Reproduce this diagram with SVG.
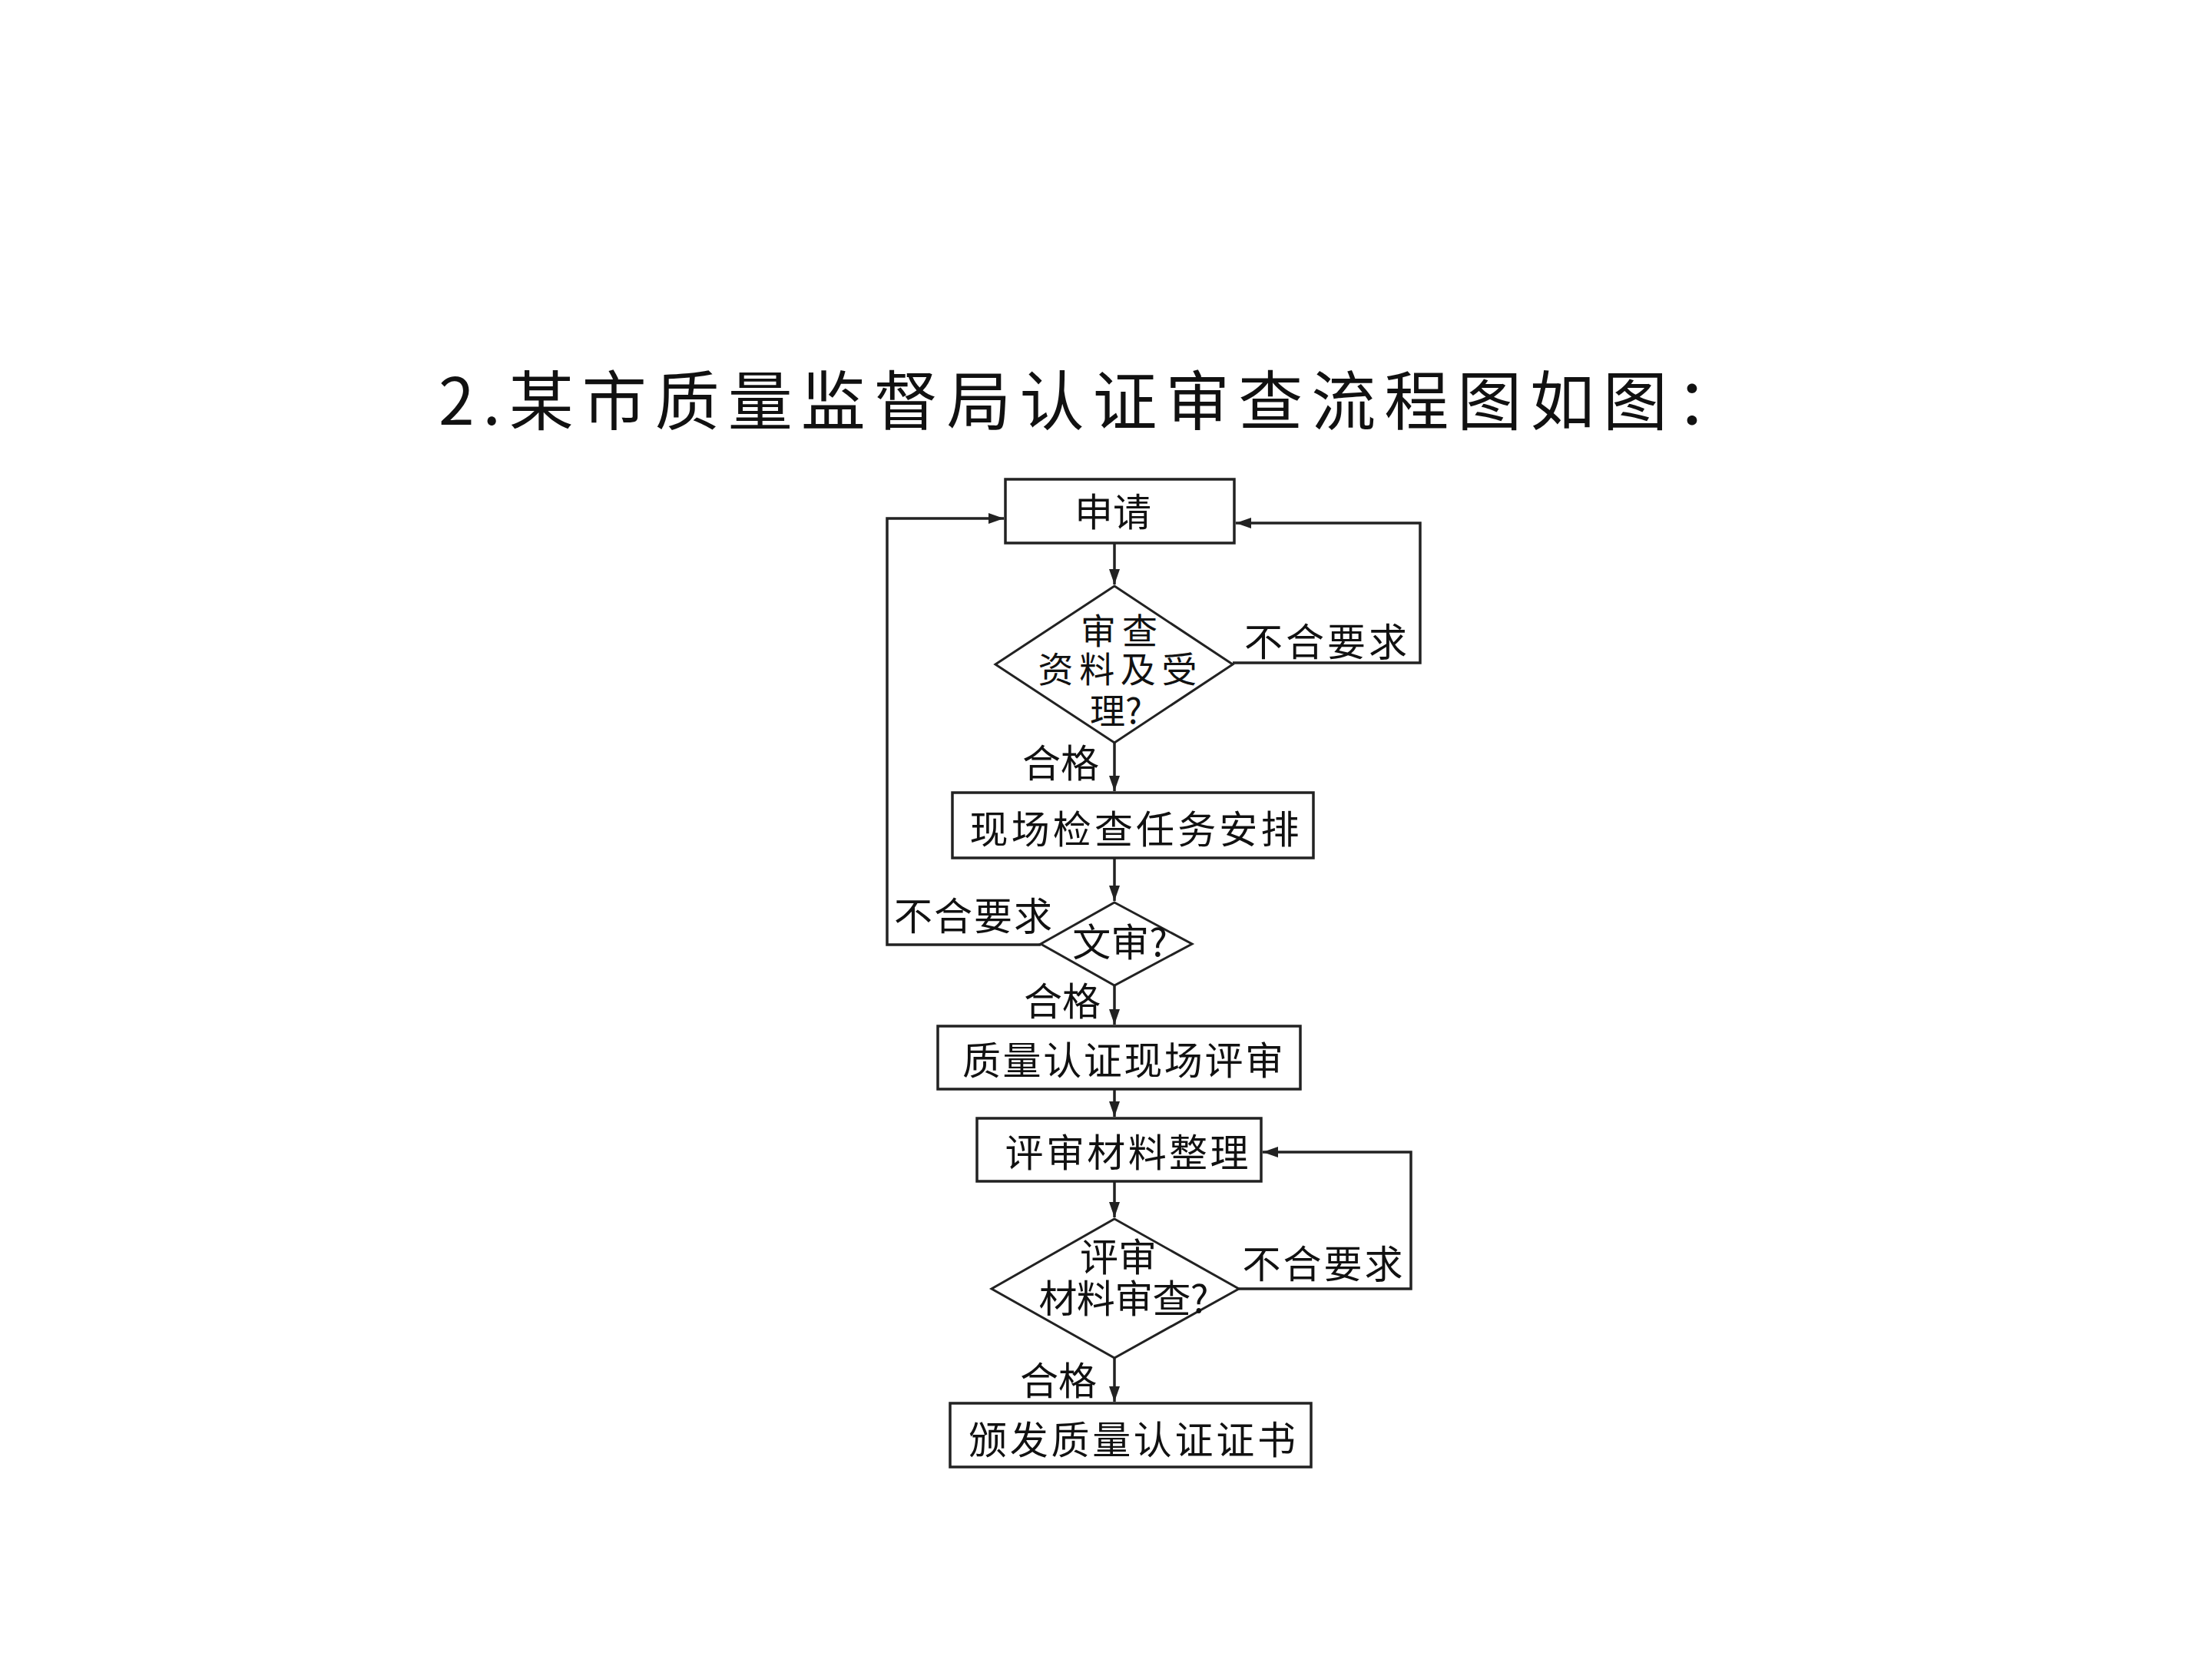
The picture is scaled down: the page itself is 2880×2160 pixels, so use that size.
<svg xmlns="http://www.w3.org/2000/svg" width="2880" height="2160" viewBox="0 0 2880 2160">
<style>
.box{fill:#fff;stroke:#222;stroke-width:3.5}
.dia{fill:#fff;stroke:#222;stroke-width:3}
.ln{fill:none;stroke:#222;stroke-width:3.5}
.t{font-family:"Noto Sans CJK SC","Liberation Sans",sans-serif;font-size:50px;fill:#111;text-anchor:middle}
.d{font-size:46px}
.title{font-family:"Noto Sans CJK SC","Liberation Sans",sans-serif;font-size:84px;fill:#111}
</style>
<defs>
<marker id="arr" markerUnits="userSpaceOnUse" markerWidth="22" markerHeight="14" refX="20" refY="7" orient="auto">
<path d="M0,0 L20,7 L0,14 Z" fill="#222"/>
</marker>
</defs>
<rect width="2880" height="2160" fill="#fff"/>
<text class="title" x="571" y="553" textLength="1695" lengthAdjust="spacing">2.某市质量监督局认证审查流程图如图：</text>
<g id="connectors">
<path class="ln" d="M1451,707 L1451,761" marker-end="url(#arr)"/>
<path class="ln" d="M1451,967 L1451,1030" marker-end="url(#arr)"/>
<path class="ln" d="M1605,863 L1849,863 L1849,681 L1609,681" marker-end="url(#arr)"/>
<path class="ln" d="M1451,1117 L1451,1173" marker-end="url(#arr)"/>
<path class="ln" d="M1355,1230 L1155,1230 L1155,675 L1307,675" marker-end="url(#arr)"/>
<path class="ln" d="M1451,1283 L1451,1334" marker-end="url(#arr)"/>
<path class="ln" d="M1451,1418 L1451,1454" marker-end="url(#arr)"/>
<path class="ln" d="M1451,1538 L1451,1585" marker-end="url(#arr)"/>
<path class="ln" d="M1613,1678 L1837,1678 L1837,1500 L1644,1500" marker-end="url(#arr)"/>
<path class="ln" d="M1451,1768 L1451,1825" marker-end="url(#arr)"/>
<text class="t" x="1726" y="854" textLength="212">不合要求</text>
<text class="t" x="1381" y="1012">合格</text>
<text class="t" x="1267" y="1211" textLength="206">不合要求</text>
<text class="t" x="1383" y="1322">合格</text>
<text class="t" x="1722" y="1664" textLength="209">不合要求</text>
<text class="t" x="1378" y="1816">合格</text>
</g>
<g id="n1">
<rect class="box" x="1309" y="624" width="298" height="83"/>
<text class="t" x="1449" y="685">申请</text>
</g>
<g id="n2">
<polygon class="dia" points="1451,763 1605,865 1451,967 1296,865"/>
<text class="t d" x="1457" y="838" textLength="100">审查</text>
<text class="t d" x="1455" y="888" textLength="207">资料及受</text>
<text class="t d" x="1453" y="942">理?</text>
</g>
<g id="n3">
<rect class="box" x="1240" y="1032" width="470" height="85"/>
<text class="t" x="1477" y="1098" font-size="52" textLength="429">现场检查任务安排</text>
</g>
<g id="n4">
<polygon class="dia" points="1451,1175 1552,1229 1451,1283 1355,1229"/>
<text class="t" x="1458" y="1245">文审?</text>
</g>
<g id="n5">
<rect class="box" x="1221" y="1336" width="472" height="82"/>
<text class="t" x="1462" y="1399" textLength="418">质量认证现场评审</text>
</g>
<g id="n6">
<rect class="box" x="1272" y="1456" width="370" height="82"/>
<text class="t" x="1467" y="1519" textLength="317">评审材料整理</text>
</g>
<g id="n7">
<polygon class="dia" points="1451,1587 1613,1678 1451,1768 1291,1678"/>
<text class="t" x="1456" y="1655" font-size="48">评审</text>
<text class="t" x="1463" y="1709" font-size="48" textLength="221">材料审查?</text>
</g>
<g id="n8">
<rect class="box" x="1237" y="1827" width="470" height="83"/>
<text class="t" x="1474" y="1893" textLength="426">颁发质量认证证书</text>
</g>
</svg>
